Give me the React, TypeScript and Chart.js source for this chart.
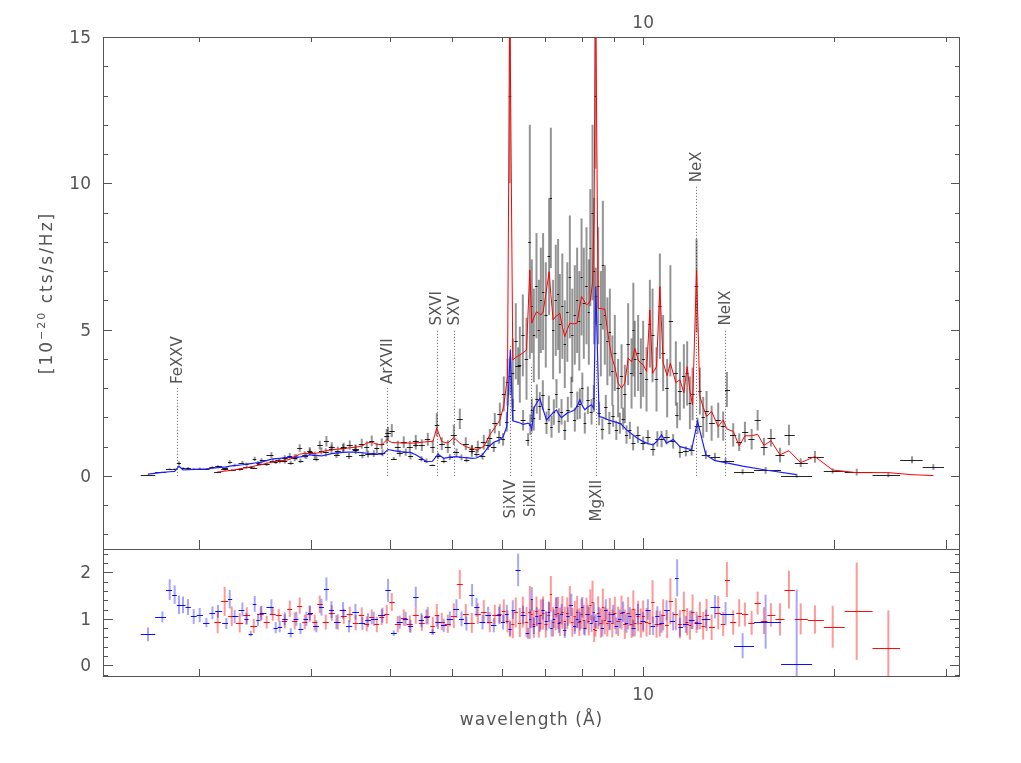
import React, { useEffect, useRef } from "react";
import { Chart, registerables } from "chart.js";

Chart.register(...registerables);

// ---------------- data (wavelength in Å, flux in 1e-20 cts/s/Hz) ----------------
// data set A (red model)
const waveA = [
  2.140, 2.195, 2.252, 2.318, 2.378, 2.439, 2.501, 2.556, 2.613, 2.670,
  2.729, 2.779, 2.829, 2.881, 2.934, 2.988, 3.042, 3.098, 3.166, 3.236,
  3.307, 3.379, 3.454, 3.529, 3.607, 3.673, 3.740, 3.809, 3.878, 3.949,
  4.022, 4.110, 4.200, 4.293, 4.387, 4.484, 4.582, 4.666, 4.734, 4.821,
  4.927, 5.035, 5.146, 5.258, 5.375, 5.493, 5.613, 5.737, 5.841, 5.949,
  6.035, 6.117, 6.168, 6.235, 6.303, 6.396, 6.466, 6.553, 6.632, 6.680,
  6.728, 6.794, 6.852, 6.902, 6.959, 7.027, 7.113, 7.157, 7.216, 7.286,
  7.348, 7.394, 7.461, 7.528, 7.597, 7.667, 7.736, 7.806, 7.872, 7.935,
  7.999, 8.065, 8.144, 8.213, 8.258, 8.324, 8.372, 8.414, 8.495, 8.579,
  8.641, 8.703, 8.783, 8.863, 8.943, 9.024, 9.133, 9.247, 9.357, 9.471,
  9.588, 9.650, 9.702, 9.820, 9.917, 10.00, 10.123, 10.246, 10.346, 10.496,
  10.624, 10.751, 10.908, 11.036, 11.257, 11.423, 11.589, 11.729, 11.845, 11.961,
  12.135, 12.282, 12.429, 12.583, 12.815, 13.125, 13.364, 13.545, 13.858, 14.164,
  14.458, 14.815, 15.140, 15.490, 15.888, 16.416, 16.960, 17.696, 18.634, 19.872,
  21.678, 24.311, 26.493, 28.62,
];
const modelA = [
  0.13, 0.16, 0.19, 0.24, 0.28, 0.33, 0.38, 0.43, 0.47, 0.51,
  0.53, 0.56, 0.65, 0.74, 0.77, 0.77, 0.76, 0.80, 0.86, 0.89,
  0.91, 0.93, 0.96, 0.98, 1.02, 1.12, 1.15, 1.08, 1.06, 1.23,
  1.14, 1.13, 1.12, 1.12, 1.12, 1.15, 1.17, 1.17, 1.63, 1.17,
  1.12, 1.31, 1.12, 1.00, 0.93, 0.90, 1.00, 1.40, 1.65, 1.90,
  2.40, 3.39, 16.5, 3.96, 4.05, 4.13, 4.20, 4.30, 7.04, 5.22,
  5.40, 5.61, 5.55, 5.50, 5.60, 6.20, 6.98, 6.20, 5.33, 5.45,
  5.50, 5.56, 5.10, 4.76, 5.00, 5.22, 5.20, 5.20, 5.22, 5.70,
  6.13, 6.00, 5.84, 5.90, 6.00, 6.60, 9.00, 17.0, 5.73, 5.72,
  5.70, 5.70, 5.00, 4.42, 4.00, 3.73, 3.17, 3.00, 3.17, 4.02,
  3.90, 4.10, 4.36, 3.96, 3.85, 3.80, 3.57, 5.67, 3.50, 3.73,
  6.47, 3.87, 3.42, 3.85, 3.19, 3.28, 2.84, 3.73, 2.90, 2.43,
  7.04, 2.71, 2.35, 2.03, 2.20, 1.68, 1.91, 1.60, 1.52, 1.02,
  1.37, 1.37, 1.42, 1.04, 1.20, 0.72, 0.86, 0.45, 0.66, 0.20,
  0.11, 0.11, 0.04, 0.01,
];
const fluxA = [
  0.12, 0.22, 0.20, 0.22, 0.30, 0.28, 0.42, 0.40, 0.52, 0.55,
  0.50, 0.68, 0.62, 0.95, 0.72, 0.85, 0.70, 1.05, 0.80, 1.00,
  0.85, 0.98, 1.05, 0.90, 1.10, 1.00, 1.20, 0.95, 1.10, 1.35,
  1.55, 1.00, 1.15, 1.00, 1.20, 1.05, 1.25, 1.00, 1.75, 1.10,
  1.00, 1.40, 1.95, 1.10, 0.85, 1.00, 1.15, 1.30, 1.80, 2.10,
  2.80, 3.20, 13.0, 3.50, 4.60, 3.80, 4.80, 4.00, 8.00, 5.80,
  4.80, 6.50, 5.00, 6.00, 6.30, 5.50, 7.50, 9.50, 5.00, 6.00,
  6.20, 5.20, 5.80, 4.50, 5.60, 6.80, 4.80, 5.50, 6.00, 5.30,
  6.80, 5.90, 6.50, 5.60, 7.80, 9.00, 7.00, 13.0, 6.50, 5.20,
  7.20, 5.50, 4.60, 4.90, 3.60, 4.20, 3.00, 3.40, 2.80, 4.50,
  3.50, 5.00, 4.00, 4.20, 3.50, 4.00, 3.30, 5.20, 4.80, 3.30,
  5.80, 4.20, 3.00, 5.30, 3.50, 2.90, 3.40, 3.50, 2.50, 2.80,
  6.50, 2.90, 2.00, 2.20, 1.80, 1.90, 1.70, 2.95, 1.40, 1.15,
  1.50, 1.25, 1.90, 1.00, 1.30, 0.71, 1.40, 0.45, 0.65, 0.166,
  0.128, 0.04, 0.55, 0.30,
];
const errA = [
  0.03, 0.05, 0.04, 0.05, 0.05, 0.05, 0.06, 0.06, 0.07, 0.07,
  0.08, 0.10, 0.12, 0.13, 0.12, 0.13, 0.13, 0.15, 0.14, 0.15,
  0.15, 0.15, 0.16, 0.16, 0.17, 0.18, 0.18, 0.18, 0.18, 0.25,
  0.22, 0.20, 0.20, 0.20, 0.20, 0.20, 0.22, 0.22, 0.40, 0.22,
  0.22, 0.35, 0.35, 0.22, 0.20, 0.20, 0.25, 0.30, 0.35, 0.40,
  0.60, 0.80, 3.0, 1.2, 1.3, 1.3, 1.4, 1.4, 4.0, 1.6,
  1.6, 1.8, 1.7, 1.8, 2.0, 1.8, 2.0, 2.4, 1.7, 1.9,
  1.9, 1.7, 1.8, 1.5, 1.7, 2.1, 1.6, 1.7, 1.8, 1.7,
  2.0, 1.9, 2.0, 1.8, 2.0, 3.0, 2.5, 2.5, 2.0, 1.8,
  2.2, 1.7, 1.5, 1.5, 1.2, 1.3, 1.0, 1.1, 1.0, 1.4,
  1.2, 1.6, 1.3, 1.3, 1.2, 1.3, 1.1, 1.5, 1.6, 1.1,
  1.8, 1.3, 1.0, 1.9, 1.1, 1.0, 1.1, 1.1, 0.9, 0.9,
  1.6, 0.8, 0.7, 0.7, 0.6, 0.6, 0.5, 0.6, 0.4, 0.3,
  0.35, 0.35, 0.35, 0.3, 0.3, 0.25, 0.35, 0.15, 0.2, 0.09,
  0.115, 0.09, 0.12, 0.10,
];

// data set B (blue model)
const waveB = [
  1.6625, 1.7516, 1.7986, 1.8313, 1.8603, 1.8874, 1.9220, 1.9620, 2.0052, 2.0544,
  2.0997, 2.1427, 2.2088, 2.2356, 2.2762, 2.3408, 2.3749, 2.4124, 2.4474, 2.4770,
  2.5078, 2.6003, 2.6409, 2.6798, 2.7290, 2.7889, 2.8467, 2.8886, 2.9518, 2.9877,
  3.0608, 3.1171, 3.1738, 3.2321, 3.2909, 3.3709, 3.4450, 3.5254, 3.6164, 3.6906,
  3.7675, 3.8883, 3.9681, 4.0507, 4.1401, 4.2305, 4.3038, 4.3870, 4.4789, 4.5603,
  4.6609, 4.7565, 4.8555, 4.9627, 5.0841, 5.1777, 5.2718, 5.3804, 5.4664, 5.5870,
  5.7016, 5.8204, 5.9336, 6.0201, 6.1011, 6.1795, 6.2350, 6.3565, 6.4728, 6.5912,
  6.6442, 6.6800, 6.7280, 6.8019, 6.8769, 6.9518, 7.0451, 7.1048, 7.1747, 7.2343,
  7.3052, 7.3671, 7.4395, 7.5280, 7.6111, 7.7086, 7.8060, 7.8776, 7.9498, 8.0220,
  8.0942, 8.1834, 8.2941, 8.3630, 8.4230, 8.5258, 8.6251, 8.7338, 8.8469, 8.9694,
  9.0733, 9.1901, 9.3004, 9.4149, 9.5293, 9.6437, 9.8093, 10.000, 10.172, 10.369,
  10.528, 10.690, 10.884, 11.148, 11.311, 11.423, 11.673, 11.918, 12.179, 12.551,
  12.970, 13.480, 14.339, 15.584, 17.439,
];
const modelB = [
  0.06, 0.12, 0.14, 0.15, 0.33, 0.20, 0.21, 0.22, 0.23, 0.24,
  0.26, 0.28, 0.31, 0.33, 0.35, 0.38, 0.40, 0.42, 0.44, 0.45,
  0.47, 0.57, 0.59, 0.60, 0.62, 0.63, 0.64, 0.65, 0.68, 0.72,
  0.70, 0.68, 0.72, 0.76, 0.78, 0.80, 0.81, 0.81, 0.79, 0.77,
  0.76, 0.73, 0.90, 0.86, 0.83, 0.81, 0.80, 0.72, 0.60, 0.49,
  0.50, 0.74, 0.60, 0.64, 0.66, 0.63, 0.62, 0.60, 0.61, 0.72,
  0.98, 1.15, 1.22, 1.34, 1.68, 4.30, 1.88, 1.83, 1.76, 1.80,
  1.75, 1.57, 2.31, 2.50, 2.65, 2.30, 1.91, 2.00, 2.10, 2.18,
  2.25, 2.10, 1.99, 2.08, 2.16, 2.20, 2.26, 2.40, 2.60, 2.40,
  2.26, 2.35, 2.43, 2.30, 6.47, 2.03, 2.00, 1.95, 1.90, 1.86,
  1.83, 1.80, 1.70, 1.57, 1.48, 1.40, 1.28, 1.17, 1.10, 1.06,
  1.20, 1.40, 1.12, 1.24, 1.10, 1.00, 0.95, 0.89, 1.86, 0.72,
  0.52, 0.45, 0.33, 0.20, 0.04,
];
const fluxB = [
  0.040, 0.125, 0.228, 0.228, 0.429, 0.260, 0.263, 0.231, 0.248, 0.221,
  0.294, 0.325, 0.279, 0.469, 0.368, 0.456, 0.400, 0.286, 0.581, 0.441,
  0.531, 0.713, 0.478, 0.498, 0.620, 0.441, 0.640, 0.514, 0.680, 0.814,
  0.588, 0.850, 1.181, 0.912, 0.725, 0.944, 0.680, 0.932, 0.711, 0.747,
  0.760, 0.788, 1.449, 0.593, 0.772, 0.810, 0.672, 1.058, 0.582, 0.510,
  0.360, 0.688, 0.516, 0.640, 0.805, 0.630, 0.558, 0.906, 0.763, 0.670,
  1.058, 0.989, 1.318, 1.246, 1.848, 3.397, 2.256, 3.752, 1.901, 1.242,
  1.750, 2.245, 1.964, 2.625, 2.385, 2.760, 1.815, 2.300, 1.680, 2.180,
  2.813, 1.890, 2.189, 1.560, 2.268, 2.860, 1.921, 2.400, 2.470, 3.000,
  1.808, 2.585, 2.187, 2.645, 6.147, 2.132, 1.600, 2.340, 1.805, 2.046,
  1.556, 1.800, 1.955, 1.413, 1.554, 1.120, 1.408, 1.112, 1.320, 0.901,
  1.260, 1.260, 1.322, 1.178, 2.068, 0.820, 0.836, 0.872, 1.711, 0.720,
  0.655, 0.500, 0.139, 0.188, 0.0012,
];
const errB = [
  0.009, 0.014, 0.031, 0.030, 0.066, 0.036, 0.036, 0.035, 0.035, 0.024,
  0.036, 0.039, 0.037, 0.066, 0.049, 0.057, 0.052, 0.025, 0.075, 0.059,
  0.071, 0.097, 0.071, 0.072, 0.087, 0.063, 0.096, 0.078, 0.102, 0.115,
  0.091, 0.122, 0.180, 0.137, 0.117, 0.144, 0.105, 0.138, 0.111, 0.116,
  0.114, 0.117, 0.225, 0.052, 0.116, 0.122, 0.112, 0.158, 0.090, 0.078,
  0.030, 0.111, 0.084, 0.102, 0.132, 0.101, 0.093, 0.144, 0.122, 0.115,
  0.176, 0.173, 0.220, 0.214, 0.336, 0.645, 0.376, 0.641, 0.352, 0.216,
  0.350, 0.393, 0.416, 0.500, 0.477, 0.506, 0.382, 0.440, 0.378, 0.436,
  0.495, 0.420, 0.438, 0.333, 0.432, 0.528, 0.407, 0.480, 0.520, 0.528,
  0.362, 0.470, 0.437, 0.460, 0.971, 0.406, 0.360, 0.429, 0.380, 0.372,
  0.329, 0.360, 0.374, 0.314, 0.296, 0.252, 0.282, 0.234, 0.242, 0.212,
  0.264, 0.280, 0.246, 0.248, 0.440, 0.200, 0.171, 0.178, 0.279, 0.144,
  0.130, 0.113, 0.089, 0.116, 0.064,
];

// emission line identifications
const lineNames = ["FeXXV", "ArXVII", "SXVI", "SXV", "SiXIV", "SiXIII", "MgXII", "NeX", "NeIX"];
const lineWaves = [1.85, 3.95, 4.73, 5.04, 6.18, 6.65, 8.42, 12.13, 13.45];
const lineMarkLevel = [3.0, 3.0, 5.0, 5.0, 4.5, 3.8, 4.0, 9.9, 5.0];
const lineLabelAbove = [true, true, true, true, false, false, false, true, true];

// axes
const xTickValues = [2, 3, 4, 5, 6, 7, 8, 9, 10, 20, 30];
const xLabelValues = [10];
const fluxTickLabels = [0, 5, 10, 15];
const ratioTickLabels = [0, 1, 2];
const X_MIN = 1.4125;
const X_MAX = 31.52;
const FLUX_MIN = -2.5;
const FLUX_MAX = 15;
const RATIO_MIN = -0.25;
const RATIO_MAX = 2.5;
const X_TITLE = "wavelength (Å)";

// ---------------- layout / style ----------------
const CANVAS_W = 1021;
const CANVAS_H = 763;
const PAD = { left: 103, right: 61, top: 37, bottom: 86 };
const PANEL_SPLIT = 0.8;
const FONT = '"DejaVu Sans", "Liberation Sans", sans-serif';
const INK = "#555";

function binEdges(w: number[]) {
  const lo: number[] = [];
  const hi: number[] = [];
  for (let i = 0; i < w.length; i++) {
    const r = i < w.length - 1 ? Math.sqrt(w[i] * w[i + 1]) : NaN;
    const l = i > 0 ? Math.sqrt(w[i - 1] * w[i]) : NaN;
    lo.push(isNaN(l) ? (w[i] * w[i]) / r : l);
    hi.push(isNaN(r) ? (w[i] * w[i]) / l : r);
  }
  return { lo, hi };
}

function drawCrosses(
  ctx: CanvasRenderingContext2D,
  xs: any,
  ys: any,
  w: number[],
  v: number[],
  e: number[],
  barColor: string,
  tickColor: string,
  barW: number
) {
  const { lo, hi } = binEdges(w);
  for (let i = 0; i < w.length; i++) {
    const x = xs.getPixelForValue(w[i]);
    const xl = xs.getPixelForValue(lo[i]);
    const xr = xs.getPixelForValue(hi[i]);
    const y = ys.getPixelForValue(v[i]);
    const yt = ys.getPixelForValue(v[i] + e[i]);
    const yb = ys.getPixelForValue(v[i] - e[i]);
    ctx.strokeStyle = barColor;
    ctx.lineWidth = barW;
    ctx.beginPath();
    ctx.moveTo(x, yt);
    ctx.lineTo(x, yb);
    ctx.stroke();
    ctx.strokeStyle = tickColor;
    ctx.lineWidth = 1;
    const yy = Math.round(y) + 0.5;
    ctx.beginPath();
    ctx.moveTo(Math.min(xl, x - 1), yy);
    ctx.lineTo(Math.max(xr, x + 1), yy);
    ctx.stroke();
  }
}

export default function App() {
  const ref = useRef<HTMLCanvasElement>(null);

  useEffect(() => {
    const canvas = ref.current;
    if (!canvas) return;
    const plotH = CANVAS_H - PAD.top - PAD.bottom;
    const botH = plotH * (1 - PANEL_SPLIT);
    const topH = plotH * PANEL_SPLIT;
    const yMinExt = FLUX_MAX - (FLUX_MAX - FLUX_MIN) / PANEL_SPLIT;
    const rMaxExt = RATIO_MIN + (RATIO_MAX - RATIO_MIN) / (1 - PANEL_SPLIT);

    const ratioA = fluxA.map((f, i) => f / modelA[i]);
    const ratioErrA = errA.map((e, i) => e / modelA[i]);
    const ratioB = fluxB.map((f, i) => f / modelB[i]);
    const ratioErrB = errB.map((e, i) => e / modelB[i]);

    const panels = (chart: any) => {
      const ca = chart.chartArea;
      const ys = chart.scales.y;
      const rs = chart.scales.y2;
      return {
        top: { l: ca.left, r: ca.right, t: ys.getPixelForValue(FLUX_MAX), b: ys.getPixelForValue(FLUX_MIN) },
        bot: { l: ca.left, r: ca.right, t: rs.getPixelForValue(RATIO_MAX), b: rs.getPixelForValue(RATIO_MIN) },
      };
    };

    const plugin = {
      id: "spectrumDecor",
      beforeDatasetsDraw(chart: any) {
        const ctx: CanvasRenderingContext2D = chart.ctx;
        const xs = chart.scales.x;
        const ys = chart.scales.y;
        const rs = chart.scales.y2;
        const { top, bot } = panels(chart);

        // top panel
        ctx.save();
        ctx.beginPath();
        ctx.rect(top.l, top.t, top.r - top.l, top.b - top.t);
        ctx.clip();
        // line markers
        ctx.strokeStyle = "#666";
        ctx.lineWidth = 1;
        ctx.setLineDash([1, 2]);
        lineWaves.forEach((lw, i) => {
          const x = Math.round(xs.getPixelForValue(lw)) + 0.5;
          ctx.beginPath();
          ctx.moveTo(x, ys.getPixelForValue(0));
          ctx.lineTo(x, ys.getPixelForValue(lineMarkLevel[i]));
          ctx.stroke();
        });
        ctx.setLineDash([]);
        ctx.fillStyle = INK;
        ctx.font = `15px ${FONT}`;
        ctx.textBaseline = "middle";
        lineNames.forEach((name, i) => {
          const x = xs.getPixelForValue(lineWaves[i]);
          const above = lineLabelAbove[i];
          const y = above ? ys.getPixelForValue(lineMarkLevel[i]) - 4 : ys.getPixelForValue(0) + 4;
          ctx.save();
          ctx.translate(x, y);
          ctx.rotate(-Math.PI / 2);
          ctx.textAlign = above ? "left" : "right";
          ctx.fillText(name, 0, 1);
          ctx.restore();
        });
        drawCrosses(ctx, xs, ys, waveA, fluxA, errA, "rgba(0,0,0,0.42)", "rgba(0,0,0,0.85)", 2);
        drawCrosses(ctx, xs, ys, waveB, fluxB, errB, "rgba(0,0,0,0.42)", "rgba(0,0,0,0.85)", 2);
        ctx.restore();

        // residual panel
        ctx.save();
        ctx.beginPath();
        ctx.rect(bot.l, bot.t, bot.r - bot.l, bot.b - bot.t);
        ctx.clip();
        drawCrosses(ctx, xs, rs, waveA, ratioA, ratioErrA, "rgba(255,0,0,0.4)", "rgba(255,0,0,0.95)", 2);
        drawCrosses(ctx, xs, rs, waveB, ratioB, ratioErrB, "rgba(0,0,255,0.35)", "rgba(0,0,255,0.95)", 2);
        ctx.restore();
      },
      afterDraw(chart: any) {
        const ctx: CanvasRenderingContext2D = chart.ctx;
        const xs = chart.scales.x;
        const ys = chart.scales.y;
        const rs = chart.scales.y2;
        const { top, bot } = panels(chart);
        ctx.save();
        ctx.strokeStyle = INK;
        ctx.lineWidth = 1;
        ctx.strokeRect(top.l + 0.5, top.t + 0.5, top.r - top.l - 1, top.b - top.t);
        ctx.strokeRect(bot.l + 0.5, bot.t + 0.5, bot.r - bot.l - 1, bot.b - bot.t - 1);

        const seg = (x0: number, y0: number, x1: number, y1: number) => {
          ctx.beginPath();
          ctx.moveTo(x0, y0);
          ctx.lineTo(x1, y1);
          ctx.stroke();
        };
        // x ticks
        xTickValues.forEach((v) => {
          const x = Math.round(xs.getPixelForValue(v)) + 0.5;
          const major = xLabelValues.includes(v);
          seg(x, top.t, x, top.t + (major ? 8 : 5));
          seg(x, top.b, x, top.b - (major ? 11 : 9));
          seg(x, bot.b, x, bot.b - (major ? 10 : 8));
        });
        // y ticks, flux panel
        for (let v = Math.ceil(FLUX_MIN); v <= FLUX_MAX; v++) {
          const y = Math.round(ys.getPixelForValue(v)) + 0.5;
          const len = v % 5 === 0 ? 9 : 5;
          seg(top.l, y, top.l + len, y);
          seg(top.r, y, top.r - len, y);
        }
        // y ticks, ratio panel
        for (let k = -1; k <= 12; k++) {
          const v = k * 0.2;
          const y = Math.round(rs.getPixelForValue(v)) + 0.5;
          const len = k % 5 === 0 ? 10 : 5;
          seg(bot.l, y, bot.l + len, y);
          seg(bot.r, y, bot.r - len, y);
        }

        // tick labels
        ctx.fillStyle = INK;
        ctx.font = `17px ${FONT}`;
        ctx.textAlign = "right";
        ctx.textBaseline = "alphabetic";
        fluxTickLabels.forEach((v) => ctx.fillText(String(v), top.l - 12, ys.getPixelForValue(v) + 6));
        ratioTickLabels.forEach((v) => ctx.fillText(String(v), bot.l - 12, rs.getPixelForValue(v) + 6));
        ctx.textAlign = "center";
        xLabelValues.forEach((v) => {
          const x = xs.getPixelForValue(v);
          ctx.fillText(String(v), x, top.t - 9);
          ctx.fillText(String(v), x, bot.b + 23);
        });

        // axis titles
        (ctx as any).letterSpacing = "1px";
        ctx.fillText(X_TITLE, (top.l + top.r) / 2, bot.b + 48);
        (ctx as any).letterSpacing = "2px";
        const partA = "[10";
        const partB = "\u221220";
        const partC = " cts/s/Hz]";
        ctx.font = `17px ${FONT}`;
        const wA = ctx.measureText(partA).width;
        const wC = ctx.measureText(partC).width;
        ctx.font = `11px ${FONT}`;
        const wB = ctx.measureText(partB).width;
        const total = wA + wB + wC;
        ctx.save();
        ctx.translate(51.5, (top.t + top.b) / 2);
        ctx.rotate(-Math.PI / 2);
        ctx.textAlign = "left";
        let px = -total / 2;
        ctx.font = `17px ${FONT}`;
        ctx.fillText(partA, px, 0);
        px += wA;
        ctx.font = `11px ${FONT}`;
        ctx.fillText(partB, px, -7);
        px += wB;
        ctx.font = `17px ${FONT}`;
        ctx.fillText(partC, px, 0);
        ctx.restore();
        (ctx as any).letterSpacing = "0px";
        ctx.restore();
      },
    };

    const chart = new Chart(canvas, {
      type: "line",
      data: {
        datasets: [
          {
            label: "model A",
            data: waveA.map((w, i) => ({ x: w, y: modelA[i] })),
            xAxisID: "x",
            yAxisID: "y",
            borderColor: "rgb(255,0,0)",
            borderWidth: 1,
            pointRadius: 0,
            tension: 0,
            fill: false,
            clip: { left: 0, right: 0, top: 0, bottom: -botH },
          } as any,
          {
            label: "model B",
            data: waveB.map((w, i) => ({ x: w, y: modelB[i] })),
            xAxisID: "x",
            yAxisID: "y",
            borderColor: "rgb(30,30,255)",
            borderWidth: 1.2,
            pointRadius: 0,
            tension: 0,
            fill: false,
            clip: { left: 0, right: 0, top: 0, bottom: -botH },
          } as any,
        ],
      },
      options: {
        animation: false,
        responsive: false,
        devicePixelRatio: 1,
        events: [],
        layout: { padding: PAD },
        plugins: { legend: { display: false }, tooltip: { enabled: false }, title: { display: false } },
        scales: {
          x: { type: "logarithmic", min: X_MIN, max: X_MAX, display: false },
          y: { type: "linear", min: yMinExt, max: FLUX_MAX, display: false },
          y2: { type: "linear", min: RATIO_MIN, max: rMaxExt, display: false },
        },
      },
      plugins: [plugin],
    });
    void topH;
    return () => chart.destroy();
  }, []);

  return (
    <div style={{ position: "fixed", left: 0, top: 0, width: CANVAS_W, height: CANVAS_H, background: "#fff" }}>
      <canvas ref={ref} width={CANVAS_W} height={CANVAS_H} style={{ width: CANVAS_W, height: CANVAS_H, display: "block" }} />
    </div>
  );
}
